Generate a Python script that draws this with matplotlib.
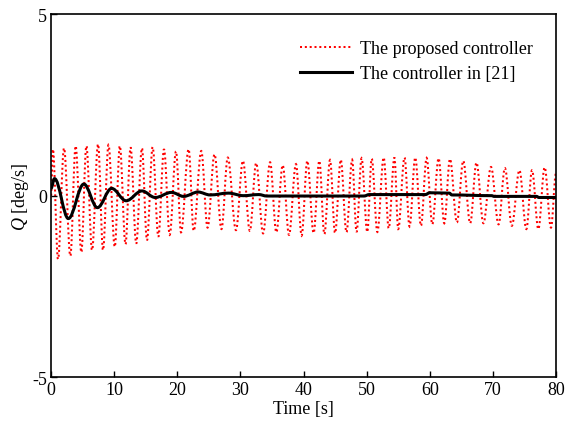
import matplotlib
matplotlib.use("Agg")
import matplotlib.pyplot as plt
from matplotlib.path import Path
from matplotlib.patches import PathPatch
from matplotlib.lines import Line2D

plt.rcParams['font.family'] = ['Liberation Serif', 'DejaVu Serif']
plt.rcParams['mathtext.fontset'] = 'custom'
plt.rcParams['mathtext.rm'] = 'Liberation Serif'
plt.rcParams['mathtext.it'] = 'Liberation Serif:italic'
plt.rcParams['axes.unicode_minus'] = False

# Proposed controller: turning points (time [s], rate [deg/s])
proposed_peak_t = [0.3, 2.06, 3.9, 5.6, 7.45, 9.1, 10.9, 12.6, 14.4, 16.1, 17.9, 19.8,
                   21.8, 23.8, 25.9, 28.0, 30.4, 32.5, 34.7, 36.7, 38.8, 40.6, 42.5,
                   44.2, 45.9, 47.7, 49.2, 50.8, 52.7, 54.4, 56.0, 57.7, 59.5, 61.4,
                   63.2, 65.3, 67.4, 69.7, 71.9, 74.2, 76.2, 78.2]
proposed_peak_v = [1.28, 1.31, 1.37, 1.37, 1.42, 1.40, 1.37, 1.33, 1.31, 1.34, 1.28, 1.22,
                   1.28, 1.23, 1.14, 1.05, 0.96, 0.90, 0.92, 0.84, 0.87, 0.96, 0.96,
                   0.98, 0.99, 0.99, 1.03, 1.02, 1.05, 1.05, 1.05, 1.05, 1.04, 1.03,
                   1.01, 0.96, 0.91, 0.79, 0.76, 0.70, 0.70, 0.78]
proposed_trough_t = [1.11, 3.06, 4.80, 6.50, 8.24, 10.1, 11.8, 13.5, 15.2, 17.0, 18.8,
                     20.6, 22.6, 24.8, 27.0, 29.3, 31.5, 33.6, 35.7, 37.7, 39.7, 41.6,
                     43.3, 45.0, 46.8, 48.4, 50.1, 51.7, 53.5, 55.0, 56.8, 58.6, 60.4,
                     62.3, 64.3, 66.4, 68.5, 70.9, 73.0, 75.3, 77.2, 79.2]
proposed_trough_v = [-1.75, -1.66, -1.56, -1.50, -1.50, -1.41, -1.34, -1.32, -1.23, -1.13,
                     -1.08, -1.01, -0.97, -0.88, -0.92, -0.95, -0.97, -1.04, -1.01, -1.08,
                     -1.10, -1.03, -1.06, -1.03, -1.01, -1.00, -1.00, -1.00, -0.90, -0.92,
                     -0.85, -0.83, -0.79, -0.76, -0.74, -0.76, -0.76, -0.79, -0.83, -0.92,
                     -0.92, -0.88]
proposed_start = (0.0, 0.0)
proposed_end = (80.0, 0.62)

# Controller in [21]: turning points (time [s], rate [deg/s])
ref_t = [0.0, 0.55, 2.75, 5.2, 7.35, 9.6, 11.9, 14.4, 16.5, 19.1, 21.0, 23.3, 25.2,
         28.1, 30.5, 32.9, 34.2, 49.6, 50.4, 59.3, 60.0, 63.1, 63.5, 69.8, 70.2,
         76.9, 77.3, 80.0]
ref_v = [0.2, 0.47, -0.63, 0.32, -0.33, 0.20, -0.14, 0.13, -0.05, 0.09, -0.02, 0.10,
         0.02, 0.07, 0.0, 0.03, -0.01, -0.01, 0.03, 0.03, 0.08, 0.07, 0.02, 0.0,
         -0.02, -0.02, -0.05, -0.05]

x_ticks = [0, 10, 20, 30, 40, 50, 60, 70, 80]
y_ticks = [-5, 0, 5]


def smooth_path(ts, vs, k=0.36):
    """Cubic Bezier path through turning points with flat tangents at each."""
    verts = [(ts[0], vs[0])]
    codes = [Path.MOVETO]
    for i in range(len(ts) - 1):
        dt = ts[i + 1] - ts[i]
        verts += [(ts[i] + k * dt, vs[i]), (ts[i + 1] - k * dt, vs[i + 1]),
                  (ts[i + 1], vs[i + 1])]
        codes += [Path.CURVE4] * 3
    return Path(verts, codes)


pts = sorted(list(zip(proposed_peak_t, proposed_peak_v)) +
             list(zip(proposed_trough_t, proposed_trough_v)))
pts = [proposed_start] + pts + [proposed_end]
prop_t = [p[0] for p in pts]
prop_v = [p[1] for p in pts]

fig = plt.figure(figsize=(5.65, 4.31), dpi=100)
ax = fig.add_axes([0.0903, 0.1223, 0.8938, 0.8428])

red_dots = (0, (1.0, 1.4))
red_style = dict(color='red', lw=1.45, ls=red_dots)
black_style = dict(color='black', lw=2.2, ls='-')

ax.add_patch(PathPatch(smooth_path(prop_t, prop_v), fill=False,
                       edgecolor=red_style['color'], lw=red_style['lw'],
                       ls=red_style['ls']))
ax.add_patch(PathPatch(smooth_path(ref_t, ref_v), fill=False,
                       edgecolor=black_style['color'], lw=black_style['lw'],
                       ls=black_style['ls'], capstyle='butt', joinstyle='round'))

ax.set_xlim(0, 80)
ax.set_ylim(-5, 5)
ax.set_xticks(x_ticks)
ax.set_yticks(y_ticks)
ax.tick_params(direction='in', length=4, width=1, labelsize=13, pad=3)
for s in ax.spines.values():
    s.set_linewidth(1.2)

ax.set_xlabel('Time [s]', fontsize=13, labelpad=1)
ax.set_ylabel(r'$Q$ [deg/s]', fontsize=13, labelpad=1)

handles = [Line2D([], [], **red_style), Line2D([], [], **black_style)]
labels = ['The proposed controller', 'The controller in [21]']
fig.legend(handles, labels, loc='upper left',
           bbox_to_anchor=(300 / 565, 1 - 41 / 431), frameon=False,
           fontsize=13, handlelength=2.9, handletextpad=0.4,
           borderpad=0, borderaxespad=0, labelspacing=0.45)

fig.savefig('out.png', dpi=100)
